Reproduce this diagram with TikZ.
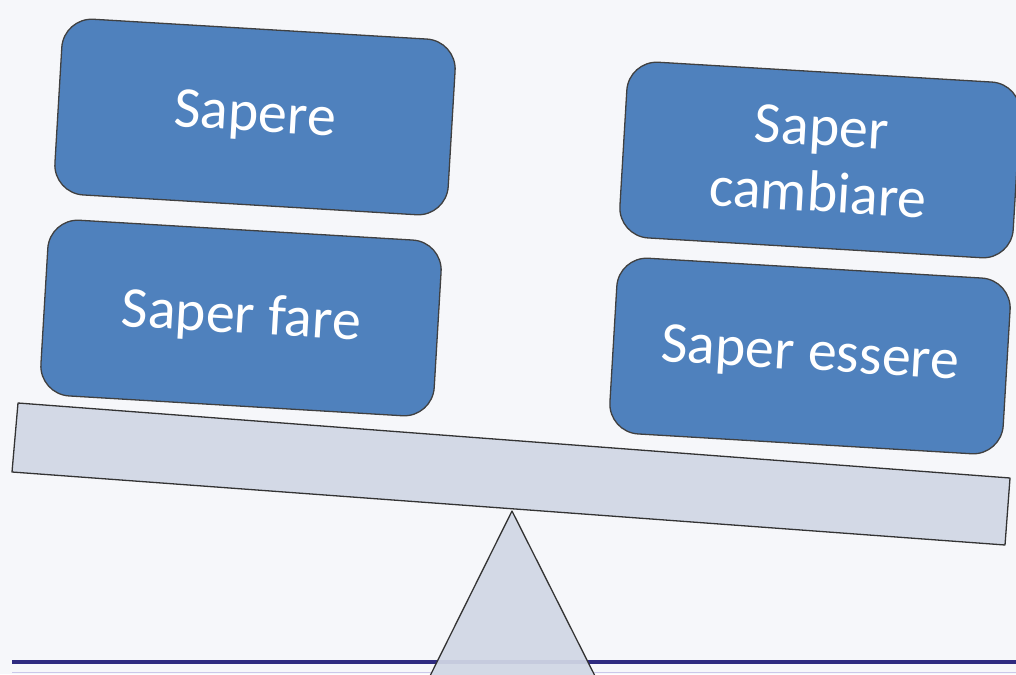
\documentclass[tikz,border=0pt]{standalone}
\usepackage{fontspec}
\setmainfont{Carlito}
\definecolor{boxblue}{HTML}{4F81BD}
\definecolor{plankgray}{HTML}{D3D9E6}
\definecolor{baseblue}{HTML}{2F2B80}
\definecolor{baselilac}{HTML}{CBC8EA}
\definecolor{bggray}{HTML}{F6F7FA}
\tikzset{
  skillbox/.style={draw=black!75, line width=1.3pt, fill=boxblue, rounded corners=30pt,
    minimum width=394pt, minimum height=176pt, inner sep=0pt, text=white, align=center,
    font=\fontsize{58}{66}\selectfont, rotate=-3.4},
  beam/.style={draw=black!80, line width=1.3pt, fill=plankgray}
}
\begin{document}
\begin{tikzpicture}[x=1pt,y=-1pt, line join=round, line cap=round]
	\useasboundingbox (0,0) rectangle (1016,674);
	\fill[bggray] (0,0) rectangle (1016,674);
	% linea di base
	\draw[baseblue, line width=4pt, line cap=butt] (12,662)--(1016,662);
	\draw[baselilac, line width=1.5pt, line cap=butt] (12,672.5)--(1016,672.5);
	% fulcro
	\coordinate (apex) at (512,511);
	\coordinate (fL) at (428,680);
	\coordinate (fR) at (597,680);
	\draw[beam] (apex)--(fL)--(fR)--cycle;
	\draw[baseblue, opacity=0.08, line width=4pt, line cap=butt] (12,662)--(1016,662);
	% asse della bilancia
	\coordinate (pA) at (18,403);
	\coordinate (pB) at (1010,478);
	\coordinate (pC) at (1005,545);
	\coordinate (pD) at (12,472);
	\draw[beam] (pA)--(pB)--(pC)--(pD)--cycle;
	% pesi
	\node[skillbox] (sapere) at (255,117) {Sapere};
	\node[skillbox] (fare) at (241,318) {Saper fare};
	\node[skillbox] (cambiare) at (820,160) {Saper\\cambiare};
	\node[skillbox] (essere) at (810,356) {Saper essere};
\end{tikzpicture}
\end{document}
